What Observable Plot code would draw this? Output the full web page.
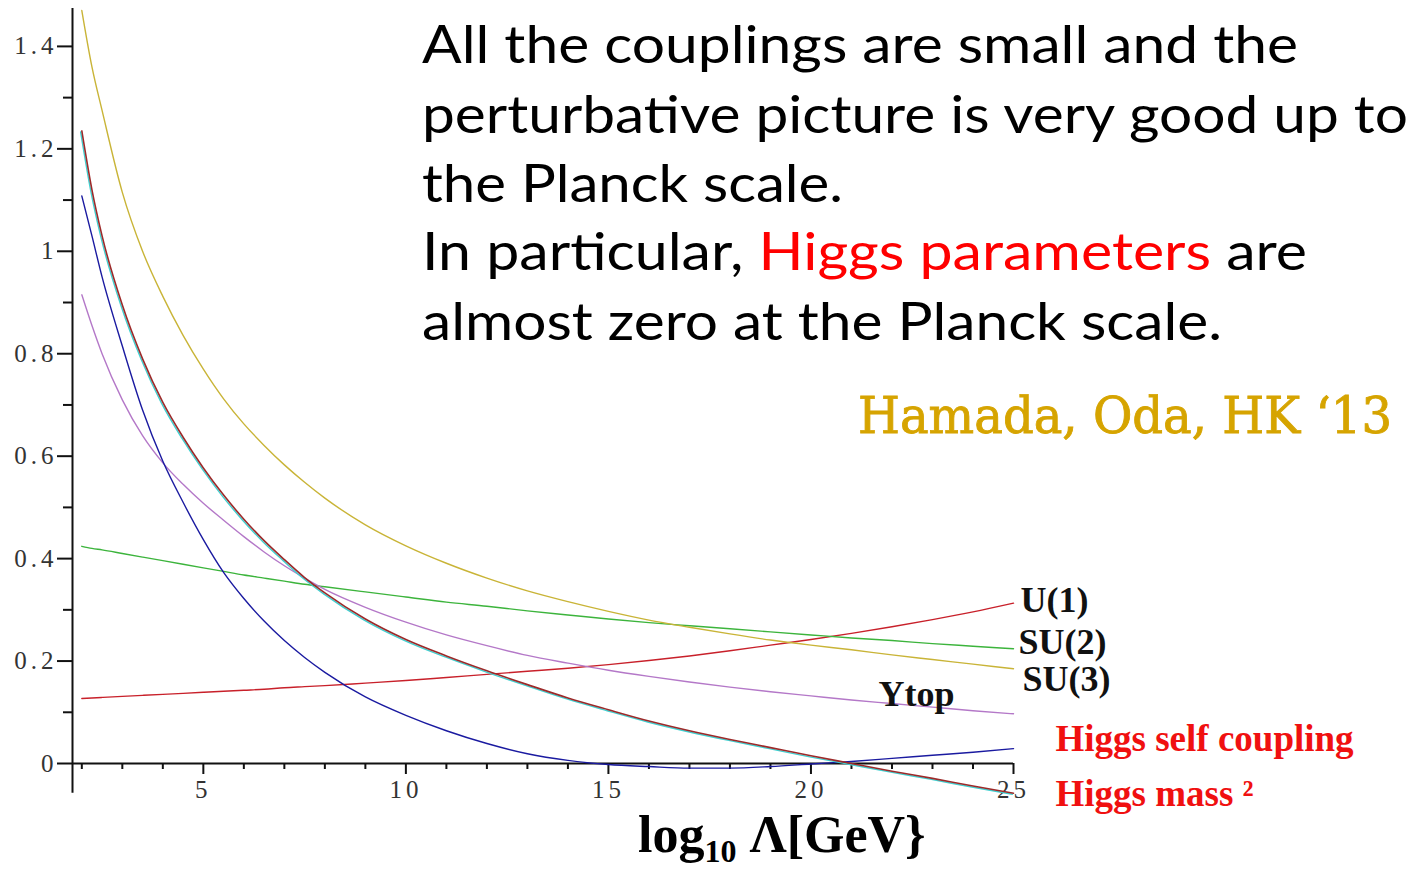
<!DOCTYPE html>
<html>
<head>
<meta charset="utf-8">
<script src="https://cdn.jsdelivr.net/npm/d3@7"></script>
<script src="https://cdn.jsdelivr.net/npm/@observablehq/plot@0.6"></script>
<style>
  body { margin: 0; background: #fff; }
  #chart svg [aria-label="y-axis tick label"],
  #chart svg [aria-label="x-axis tick label"] { fill: #333; letter-spacing: 4px; font-size: 25px; }
</style>
</head>
<body>
<div id="chart"></div>
<script>
// log10 of the cutoff scale Λ [GeV]
const logLambda = [2, 2.25, 2.5, 3, 3.5, 4, 4.5, 5, 5.5, 6, 6.5, 7, 7.5, 8,
  9, 10, 11, 12, 13, 14, 15, 16, 17, 18, 19, 20, 21, 22, 23, 24, 25];

// running couplings
const su3 = [1.47, 1.36, 1.275, 1.115, 1.0, 0.912, 0.836, 0.77, 0.712, 0.663, 0.621, 0.583, 0.549, 0.518,
  0.466, 0.425, 0.391, 0.362, 0.337, 0.316, 0.297, 0.28, 0.266, 0.253, 0.241, 0.231, 0.222, 0.212, 0.203, 0.194, 0.185];
const su2 = [0.424, 0.42, 0.417, 0.41, 0.403, 0.396, 0.389, 0.382, 0.375, 0.368, 0.362, 0.356, 0.35, 0.345,
  0.335, 0.325, 0.315, 0.307, 0.298, 0.29, 0.282, 0.275, 0.269, 0.263, 0.257, 0.251, 0.245, 0.24, 0.234, 0.229, 0.224];
const u1 = [0.127, 0.128, 0.129, 0.131, 0.133, 0.135, 0.137, 0.139, 0.141, 0.143, 0.145, 0.148, 0.15, 0.152,
  0.157, 0.162, 0.168, 0.174, 0.18, 0.186, 0.193, 0.201, 0.21, 0.22, 0.231, 0.242, 0.254, 0.267, 0.281, 0.296, 0.313];
const ytop = [0.915, 0.855, 0.8, 0.71, 0.64, 0.587, 0.545, 0.508, 0.475, 0.443, 0.413, 0.386, 0.362, 0.34,
  0.305, 0.276, 0.251, 0.23, 0.211, 0.196, 0.182, 0.17, 0.159, 0.149, 0.14, 0.132, 0.124, 0.117, 0.11, 0.103, 0.097];
const higgsSelf = [1.108, 1.03, 0.95, 0.815, 0.69, 0.59, 0.51, 0.437, 0.373, 0.322, 0.278, 0.24, 0.207, 0.178,
  0.13, 0.094, 0.064, 0.039, 0.019, 0.006, -0.002, -0.006, -0.009, -0.009, -0.006, -0.001, 0.004, 0.01, 0.016, 0.022, 0.029];
const higgsMass2 = [1.235, 1.12, 1.03, 0.895, 0.79, 0.705, 0.637, 0.577, 0.524, 0.477, 0.435, 0.398, 0.363, 0.333,
  0.282, 0.242, 0.21, 0.181, 0.154, 0.128, 0.105, 0.083, 0.064, 0.047, 0.031, 0.015, 0.0, -0.015, -0.029, -0.044, -0.058];

// axis ticks
const yTicks = [0, 0.2, 0.4, 0.6, 0.8, 1, 1.2, 1.4];
const yMinorTicks = [0.1, 0.3, 0.5, 0.7, 0.9, 1.1, 1.3];
const xTicks = [5, 10, 15, 20, 25];
const xMinorTicks = [2, 3, 4, 6, 7, 8, 9, 11, 12, 13, 14, 16, 17, 18, 19, 21, 22, 23, 24];

const xMin = 1.77, xMax = 25;
const yTop = 1.474;

const rows = (values) => logLambda.map((x, i) => ({x, y: values[i]}));
const endPoint = (values) => [{x: logLambda[logLambda.length - 1], y: values[values.length - 1]}];
const yLow = d3.min([su3, su2, u1, ytop, higgsSelf, higgsMass2].flat());

const curve = "monotone-x";
const lw = 1.4;

const label = (values, text, fill, dx, dy, fontSize = 36) =>
  Plot.text(endPoint(values), {
    x: "x", y: "y", text: () => text, textAnchor: "start", lineAnchor: "middle",
    dx, dy, fontSize, fontWeight: "bold", fill, fontFamily: "'Liberation Serif', 'Times New Roman', serif"
  });

const chart = Plot.plot({
  width: 1416,
  height: 869,
  marginLeft: 72,
  marginRight: 403,
  marginTop: 8,
  marginBottom: 106,
  x: {domain: [xMin, xMax]},
  y: {domain: [0, yTop]},
  style: {fontFamily: "'Liberation Serif', 'Times New Roman', serif", background: "#fff", overflow: "visible"},
  marks: [
    // axis lines
    Plot.ruleX([{x: xMin, y1: yLow, y2: yTop}], {x: "x", y1: "y1", y2: "y2", stroke: "#111", strokeWidth: 2}),
    Plot.ruleY([0], {stroke: "#111", strokeWidth: 2}),
    Plot.axisY(yTicks, {tickSize: 15, tickPadding: 0, tickFormat: (d) => String(d), fontSize: 25, label: null, strokeWidth: 2, stroke: "#111"}),
    Plot.axisY(yMinorTicks, {tickSize: 9, tickFormat: () => "", label: null, strokeWidth: 2, stroke: "#111"}),
    Plot.axisX(xTicks, {tickSize: 11, tickPadding: 6, tickFormat: (d) => String(d), fontSize: 25, label: null, strokeWidth: 2, stroke: "#111"}),
    Plot.axisX(xMinorTicks, {tickSize: 6, tickFormat: () => "", label: null, strokeWidth: 2, stroke: "#111"}),

    // coupling curves
    Plot.line(rows(u1), {x: "x", y: "y", stroke: "#c8202a", strokeWidth: lw, curve}),
    Plot.line(rows(su2), {x: "x", y: "y", stroke: "#3cb43c", strokeWidth: lw, curve}),
    Plot.line(rows(su3), {x: "x", y: "y", stroke: "#c9b437", strokeWidth: lw, curve}),
    Plot.line(rows(ytop), {x: "x", y: "y", stroke: "#b478c8", strokeWidth: lw, curve}),
    Plot.line(rows(higgsSelf), {x: "x", y: "y", stroke: "#1a1aa0", strokeWidth: lw, curve}),
    Plot.line(rows(higgsMass2), {x: "x", y: "y", stroke: "#40d0d0", strokeWidth: lw, curve, dx: -1.2, dy: 1}),
    Plot.line(rows(higgsMass2), {x: "x", y: "y", stroke: "#9c2a2a", strokeWidth: 1.6, curve}),

    // curve labels
    label(u1, "U(1)", "#111", 7, -3),
    label(su2, "SU(2)", "#111", 5, -6.5),
    label(su3, "SU(3)", "#111", 9, 10.5),
    label(ytop, "Ytop", "#111", -135, -19.5),
    label(higgsSelf, "Higgs self coupling", "#f01010", 42, -9, 37),
    label(higgsMass2, "Higgs mass \u00b2", "#f01010", 42, 1, 37)
  ]
});

document.getElementById("chart").appendChild(chart);

// headline text, reference and axis title
const svg = d3.select(chart);
const paragraph = [
  {baseline: 63, width: 876, parts: [["All the couplings are small and the", "#000"]]},
  {baseline: 133, width: 986, parts: [["perturbative picture is very good up to", "#000"]]},
  {baseline: 202, width: 421, parts: [["the Planck scale.", "#000"]]},
  {baseline: 270, width: 885, parts: [["In particular, ", "#000"], ["Higgs parameters", "#ff0000"], [" are", "#000"]]},
  {baseline: 340, width: 800, parts: [["almost zero at the Planck scale.", "#000"]]}
];
const para = svg.append("g")
  .attr("font-family", "Lato, 'Open Sans', sans-serif")
  .attr("font-size", 53)
  .attr("text-anchor", "start");
for (const line of paragraph) {
  const t = para.append("text")
    .attr("x", 422).attr("y", line.baseline)
    .attr("textLength", line.width)
    .attr("lengthAdjust", "spacingAndGlyphs")
    .style("white-space", "pre");
  for (const [s, c] of line.parts) t.append("tspan").attr("fill", c).text(s);
}

svg.append("text")
  .attr("x", 858).attr("y", 433)
  .attr("text-anchor", "start")
  .attr("textLength", 534).attr("lengthAdjust", "spacingAndGlyphs")
  .attr("font-family", "'DejaVu Serif', serif")
  .attr("font-size", 50)
  .attr("fill", "#d6a400")
  .attr("stroke", "#d6a400")
  .attr("stroke-width", 0.9)
  .text("Hamada, Oda, HK \u201813");

const title = svg.append("text")
  .attr("x", 638).attr("y", 852)
  .attr("text-anchor", "start")
  .attr("font-family", "'Liberation Serif', 'Times New Roman', serif")
  .attr("font-size", 52)
  .attr("font-weight", "bold")
  .attr("fill", "#000");
title.append("tspan").text("log");
title.append("tspan").attr("font-size", 32).attr("dy", 10).text("10");
title.append("tspan").attr("dy", -10).text(" \u039b[GeV}");
</script>
</body>
</html>
